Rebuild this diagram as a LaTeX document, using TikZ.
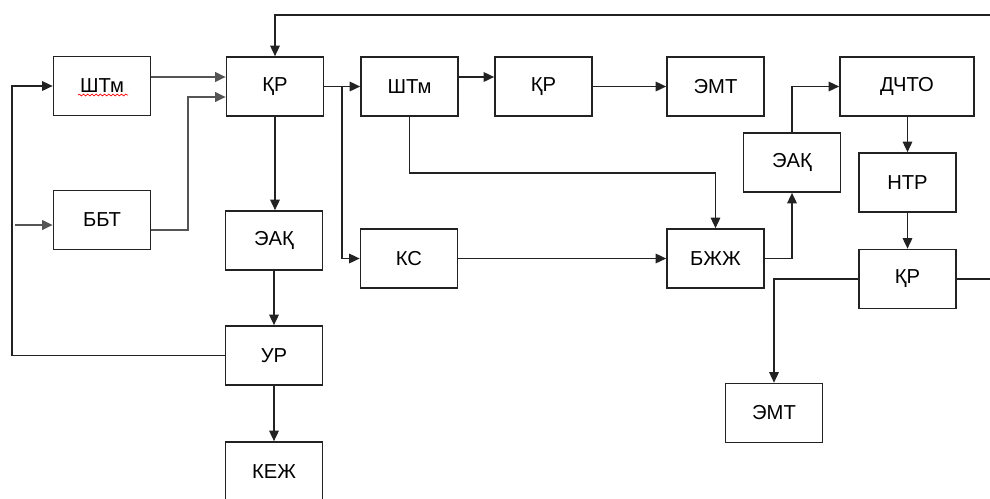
\documentclass[tikz,border=0pt]{standalone}
\usepackage{fontspec}
\setmainfont{Liberation Sans}
\usetikzlibrary{arrows.meta,positioning,calc,decorations.pathmorphing}
\definecolor{lnA}{HTML}{222222}
\definecolor{lnB}{HTML}{555555}

\begin{document}
\begin{tikzpicture}[x=0.02cm, y=-0.02cm,
  blk/.style={draw=lnA, line width=0.95pt, minimum width=1.94cm, minimum height=1.18cm, inner sep=0pt, font=\fontsize{11.5}{13}\selectfont},
  arr/.style={-{Triangle[length=0.21cm,width=0.19cm]}, draw=lnA, line width=0.9pt},
  ln/.style={draw=lnA, line width=0.9pt},
  gr/.style={draw=lnB, line width=1.1pt},
  wavy/.style={draw=red, line width=0.4pt, decorate, decoration={snake,amplitude=0.5pt,segment length=2.4pt}}]
  \useasboundingbox (0,0) rectangle (990,498);
  \clip (0,0) rectangle (990,498);
  % blocks
  \node[blk] (shtmA) at (102,86) {ШТм};
  \node[blk] (krA) at (275,86.5) {ҚР};
  \node[blk] (bbt) at (102,220) {ББТ};
  \node[blk] (eakA) at (274,240.5) {ЭАҚ};
  \node[blk] (ur) at (274,355.5) {УР};
  \node[blk] (kezh) at (274,471.5) {КЕЖ};
  \node[blk] (shtmB) at (409.5,86.5) {ШТм};
  \node[blk] (krB) at (543.5,86.5) {ҚР};
  \node[blk] (emtA) at (715.5,86.5) {ЭМТ};
  \node[blk, minimum width=2.68cm] (dchto) at (907,86.5) {ДЧТО};
  \node[blk] (eakB) at (792,162.5) {ЭАҚ};
  \node[blk] (ntr) at (907.5,182.5) {НТР};
  \node[blk] (ks) at (409,258.5) {КС};
  \node[blk] (bzhzh) at (715.5,258.5) {БЖЖ};
  \node[blk] (krC) at (907.5,279) {ҚР};
  \node[blk] (emtB) at (774,413) {ЭМТ};
  \draw[wavy] ([shift={(-24,9)}]shtmA.center) -- ++(50,0);
  % free ends
  \coordinate (topR) at (990,15);
  \coordinate (inL) at (15,225);
  \coordinate (outR) at (990,279);
  \coordinate (bbtUp) at (188,97);
  \coordinate (brA) at (342,86.5);
  % left part
  \draw[arr] (topR) -| (krA.north);
  \draw[arr,gr] (shtmA.east |- 0,77) -- (krA.west |- 0,77);
  \draw[arr,gr] (bbt.east |- 0,230) -| (bbtUp) -- (krA.west |- bbtUp);
  \draw[arr,gr] (inL) -- (bbt.west |- inL);
  \draw[arr] (ur.west) -| (12,86) -- (shtmA.west);
  \draw[arr] (krA.south) -- (krA.south |- eakA.north);
  \draw[arr] (eakA.south) -- (ur.north);
  \draw[arr] (ur.south) -- (kezh.north);
  % middle part
  \draw[arr] (krA.east) -- (shtmB.west);
  \draw[arr] (brA) |- (ks.west);
  \draw[arr] (shtmB.east |- 0,77) -- (krB.west |- 0,77);
  \draw[arr] (krB.east) -- (emtA.west);
  \draw[arr] (shtmB.south) |- (bzhzh.north |- 0,173) -- (bzhzh.north);
  \draw[arr] (ks.east) -- (bzhzh.west);
  % right part
  \draw[arr] (bzhzh.east) -| (eakB.south);
  \draw[arr] (eakB.north) |- (dchto.west);
  \draw[arr] (dchto.south -| ntr.north) -- (ntr.north);
  \draw[arr] (ntr.south) -- (krC.north);
  \draw[arr] (krC.west) -| (emtB.north);
  \draw[ln] (krC.east) -- (outR);
\end{tikzpicture}
\end{document}
